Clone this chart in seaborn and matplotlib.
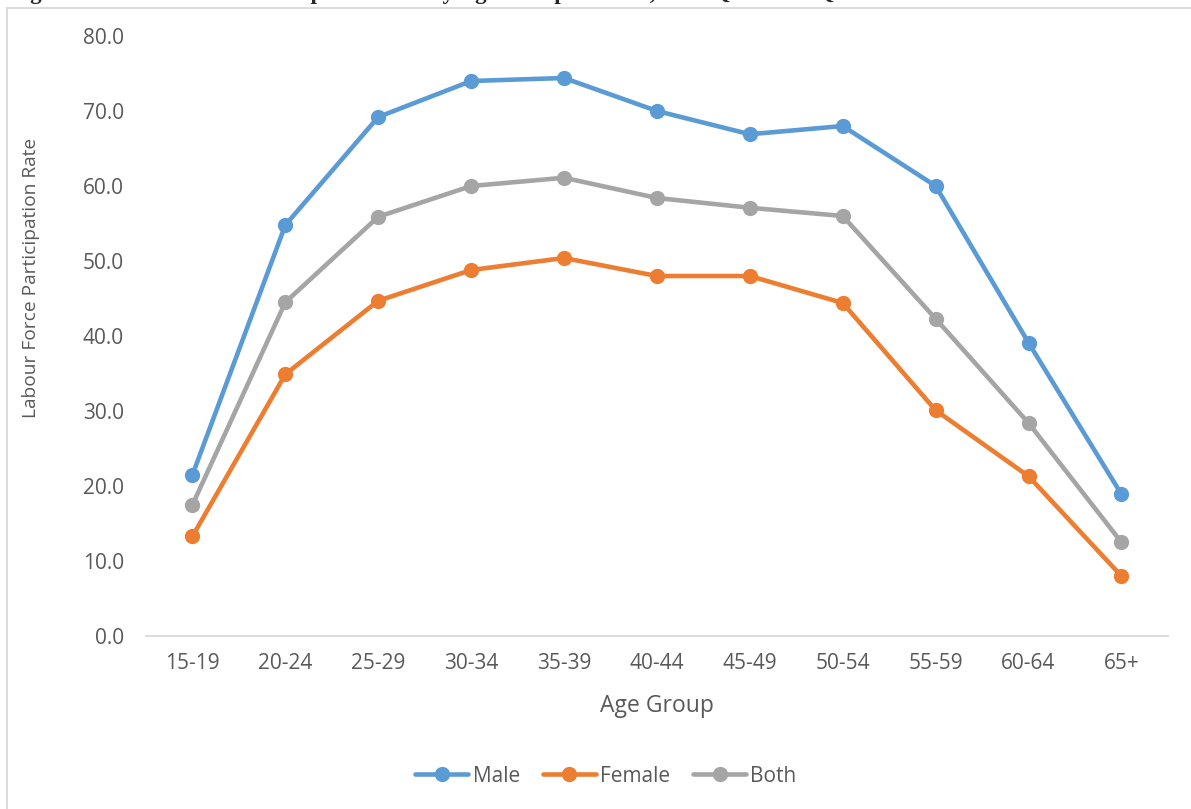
import pandas as pd
import numpy as np
import matplotlib
matplotlib.use("Agg")
import matplotlib.pyplot as plt
import seaborn as sns
from matplotlib.lines import Line2D

# Datos
grupos_edad = ["15-19", "20-24", "25-29", "30-34", "35-39", "40-44",
               "45-49", "50-54", "55-59", "60-64", "65+"]
hombres = [21.5, 54.8, 69.2, 74.0, 74.4, 70.0, 66.9, 68.0, 60.0, 39.1, 18.9]
mujeres = [13.3, 34.9, 44.7, 48.8, 50.4, 48.0, 48.0, 44.4, 30.1, 21.3, 8.0]
ambos = [17.5, 44.5, 55.9, 60.0, 61.1, 58.4, 57.1, 56.0, 42.3, 28.4, 12.5]
series = ["Male", "Female", "Both"]
colores = ["#5B9BD5", "#ED7D31", "#A5A5A5"]

df = pd.DataFrame({
    "Age Group": grupos_edad * 3,
    "Rate": hombres + mujeres + ambos,
    "Sex": np.repeat(series, len(grupos_edad)),
})

sns.set_theme(style="white")
plt.rcParams["font.family"] = ["Open Sans", "DejaVu Sans"]
gris_texto = "#595959"

fig = plt.figure(figsize=(11.91, 8.09), dpi=100)
ax = fig.add_axes([0.1226, 0.2138, 0.858, 0.7417])

sns.lineplot(data=df, x="Age Group", y="Rate", hue="Sex", hue_order=series,
             palette=colores, marker="o", markersize=11, markeredgewidth=0,
             linewidth=3.3, sort=False, legend=False, ax=ax)

ax.set_xlim(-0.5, len(grupos_edad) - 0.5)
ax.set_ylim(0, 80)
ax.set_yticks(np.arange(0, 81, 10))
ax.set_yticklabels([f"{v:.1f}" for v in np.arange(0, 81, 10)])
ax.tick_params(axis="both", length=0, labelsize=15, colors=gris_texto)
ax.tick_params(axis="y", pad=16)
ax.tick_params(axis="x", pad=12)
ax.set_xlabel("")
ax.set_ylabel("")
for lado in ["top", "right", "left"]:
    ax.spines[lado].set_visible(False)
ax.spines["bottom"].set_color("#D9D9D9")
ax.spines["bottom"].set_linewidth(1.3)

fig.text(31 / 1191, 1 - 278 / 809, "Labour Force Participation Rate", rotation=90,
         ha="center", va="center", fontsize=13.8, color=gris_texto)
fig.text(657 / 1191, 1 - 706 / 809, "Age Group", ha="center", va="center",
         fontsize=16.5, color=gris_texto)

# Leyenda
manejadores = [Line2D([0], [0], color=c, lw=3.3, marker="o", markersize=11,
                      markeredgewidth=0) for c in colores]
fig.legend(manejadores, series, loc="center", bbox_to_anchor=(606 / 1191, 1 - 776 / 809),
           ncol=3, frameon=False, fontsize=15, handlelength=2.55,
           handletextpad=0.2, columnspacing=1.1, labelcolor=gris_texto)

# Titulo cortado en la parte superior
fig.text(10 / 1191, 1 + 1 / 809,
         "Figure 4: Labour Force Participation Rate by Age Group and Sex, 2020 Q1 \u2013 2021 Q1",
         ha="left", va="baseline", fontsize=16.5, fontweight="bold",
         family=["Liberation Serif", "DejaVu Serif"])

# Borde del area del grafico
fig.add_artist(Line2D([6.5 / 1191, 6.5 / 1191], [0, 1 - 8 / 809],
                      transform=fig.transFigure, color="#D9D9D9", lw=1.3))
fig.add_artist(Line2D([6.5 / 1191, 1], [1 - 8 / 809, 1 - 8 / 809],
                      transform=fig.transFigure, color="#D9D9D9", lw=1.3))

fig.savefig("out.png", dpi=100)
